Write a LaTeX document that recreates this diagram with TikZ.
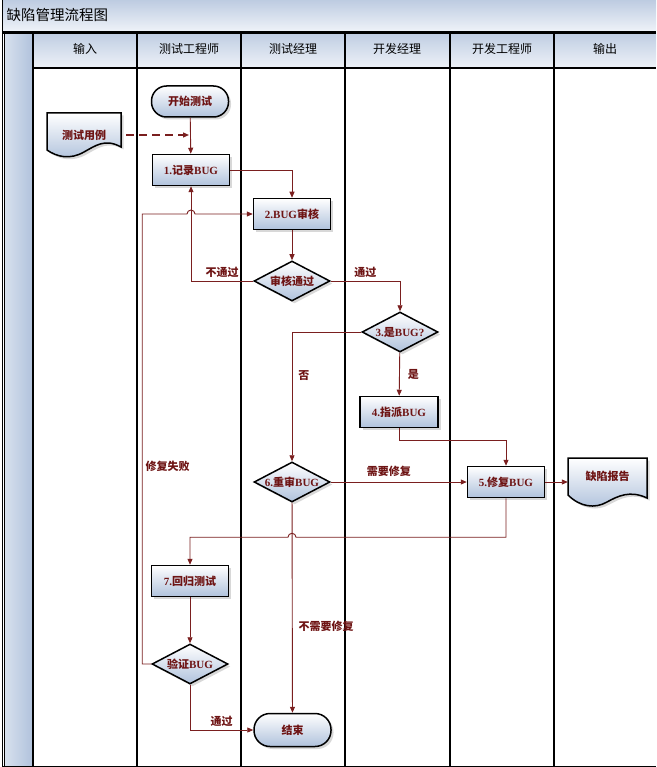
\documentclass[tikz,border=0pt]{standalone}
\usepackage{fontspec}
\setmainfont{Liberation Serif}
\newfontfamily\cjk{Noto Sans CJK SC}
\usetikzlibrary{shapes.geometric,arrows.meta,shadows,calc}
\definecolor{ln}{HTML}{7A1F1F}
\definecolor{tx}{HTML}{6E1414}
\definecolor{lb}{HTML}{B0C2DC}
\definecolor{lbl}{HTML}{D8E1EE}
\definecolor{hdA}{HTML}{BFCDE2}
\definecolor{hdB}{HTML}{EEF2F8}
\newcommand{\zh}[1]{{\cjk #1}}
\begin{document}
\begin{tikzpicture}[x=1pt,y=1pt,
  box/.style={draw=black, line width=1.5pt, rectangle, minimum width=77pt, minimum height=31pt,
    inner sep=0pt, top color=white, bottom color=lb,
    drop shadow={shadow xshift=2.5pt,shadow yshift=-2.5pt,fill=black!30},
    font=\bfseries\fontsize{11}{13}\selectfont, text=tx},
  dia/.style={box, diamond, aspect=1.9, minimum width=76pt, minimum height=40pt},
  term/.style={box, rounded corners=15pt},
  docst/.style={draw=black, line width=1.5pt, top color=white, bottom color=lb,
    drop shadow={shadow xshift=2.5pt,shadow yshift=-2.5pt,fill=black!30}},
  doctext/.style={text=tx, font=\bfseries\fontsize{11}{13}\selectfont, inner sep=0pt},
  flow/.style={draw=ln, line width=0.9pt, -{Triangle[length=6pt,width=5pt]}},
  lab/.style={text=tx, font=\bfseries\fontsize{11}{13}\selectfont, inner sep=1pt},
  hdr/.style={font=\cjk\fontsize{12}{14}\selectfont, text=black},
  lane/.style={draw=black, line width=1.8pt}]
\useasboundingbox (0,0) rectangle (656,-767);
% title bar
\shade[top color=hdA, bottom color=hdB] (2,-1) rectangle (656,-31);
\node[anchor=west, font=\cjk\fontsize{14.5}{16}\selectfont] (title) at (3,-15) {缺陷管理流程图};
% left band
\shade[left color=lbl, right color=lb] (4,-32) rectangle (33,-766);
% header cells
\foreach \a/\b in {33/137,137/241,241/345,345/450,450/554,554/656}{
  \shade[top color=hdA, bottom color=hdB] (\a,-33) rectangle (\b,-68);
}
\node[hdr] (h1) at (85,-49) {输入};
\node[hdr] (h2) at (189,-49) {测试工程师};
\node[hdr] (h3) at (293,-49) {测试经理};
\node[hdr] (h4) at (397,-49) {开发经理};
\node[hdr] (h5) at (502,-49) {开发工程师};
\node[hdr] (h6) at (605,-49) {输出};
% frame and lanes
\draw[black, line width=1pt] (2,0) -- (2,-766) -- (656,-766);
\draw[black, line width=0.8pt] (2,-31) -- (656,-31);
\draw[lane] (2,-33) -- (656,-33);
\draw[lane] (33,-68) -- (656,-68);
\foreach \x in {33,137,241,345,450,554}{\draw[lane] (\x,-33) -- (\x,-766);}
\draw[black, line width=1pt] (4,-33) -- (4,-766);
% documents
\path[docst] (47,-113) -- (121,-113) -- (121,-147)
  .. controls (105,-138) and (95,-146) .. (84,-152)
  .. controls (70,-160) and (57,-157) .. (47,-150) -- cycle;
\node[doctext, minimum width=74pt, minimum height=44pt] (tc) at (84,-135) {\zh{测试用例}};
\path[docst] (568,-458) -- (647,-458) -- (647,-498)
  .. controls (630,-490) and (618,-496) .. (607,-502)
  .. controls (595,-509) and (580,-507) .. (568,-495) -- cycle;
\node[doctext, minimum width=79pt, minimum height=40pt] (rep) at (607.5,-476) {\zh{缺陷报告}};
% nodes
\node[term] (start) at (190,-101.5) {\zh{开始测试}};
\node[box] (rec) at (191,-170) {1.\zh{记录}BUG};
\node[box] (rev) at (292,-214) {2.BUG\zh{审核}};
\node[dia] (pass) at (292,-281) {\zh{审核通过}};
\node[dia] (isbug) at (400,-332) {3.\zh{是}BUG?};
\node[box, minimum width=78pt] (assign) at (399,-412) {4.\zh{指派}BUG};
\node[dia] (rere) at (292,-482) {6.\zh{重审}BUG};
\node[box, minimum width=77pt] (fix) at (506,-482) {5.\zh{修复}BUG};
\node[box] (reg) at (190,-581) {7.\zh{回归测试}};
\node[dia] (ver) at (190,-664) {\zh{验证}BUG};
\node[term, minimum height=33pt, rounded corners=16pt] (end) at (292.5,-730) {\zh{结束}};
% connectors
\coordinate (dj) at (189,-135);
\draw[flow, line width=1.3pt, dashed, dash pattern=on 8pt off 5pt] ($(tc.east)+(5,0)$) -- (dj);
\draw[flow] (start) -- (rec);
\draw[flow] (rec.east) -| (rev.north);
\draw[flow] (rev) -- (pass);
\draw[flow] (pass.west) -| (rec.south) node[lab, pos=0.25, above=2pt] {\zh{不通过}};
\draw[flow] (pass.east) -| (isbug.north) node[lab, pos=0.25, above=2pt] {\zh{通过}};
\draw[flow] (isbug.west) -| (rere.north) node[lab, pos=0.67, right=5pt] {\zh{否}};
\draw[flow] (isbug) -- (assign) node[lab, midway, right=7pt] {\zh{是}};
\draw[flow] (assign.south) -- ++(0,-12) -| (fix.north);
\draw[flow] (rere.east) -- (fix.west) node[lab, midway, above=4pt, xshift=-10pt] {\zh{需要修复}};
\draw[flow] (fix.east) -- (rep.west |- fix.east);
\draw[flow] (fix.south) -- ++(0,-39) coordinate (f1)
  -- ($(rere.south |- f1)+(4,0)$) arc[start angle=0, end angle=180, radius=4pt]
  -- (reg.north |- f1) -- (reg.north);
\draw[flow] (rere) -- (end) node[lab, pos=0.59, right=5pt] {\zh{不需要修复}};
\draw[flow] (reg) -- (ver);
\draw[flow] (ver.west) -- ++(-9,0) coordinate (v1)
  -- (v1 |- rev.west) node[lab, pos=0.44, right=2pt] {\zh{修复失败}}
  -- ($(rec.south |- rev.west)+(-4,0)$) arc[start angle=180, end angle=0, radius=4pt]
  -- (rev.west);
\draw[flow] (ver.south) |- (end.west) node[lab, pos=0.75, above=2pt] {\zh{通过}};
\end{tikzpicture}
\end{document}
